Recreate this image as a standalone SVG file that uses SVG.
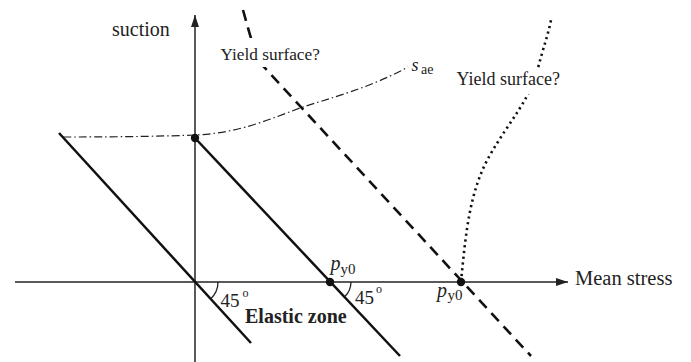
<svg xmlns="http://www.w3.org/2000/svg" width="691" height="362" viewBox="0 0 691 362">
<style>
text{font-family:'Liberation Serif','Times New Roman',Times,'DejaVu Serif',serif;fill:#222}
.ax{stroke:#222;stroke-width:1.5;fill:none}
.solid{stroke:#111;stroke-width:2.5;fill:none}
.dash{stroke:#111;stroke-width:2.6;fill:none;stroke-dasharray:11 7}
.dot{stroke:#111;stroke-width:2.6;fill:none;stroke-dasharray:2.2 3.6}
.dd{stroke:#222;stroke-width:1.2;fill:none;stroke-dasharray:8 3 1.5 3}
.arc{stroke:#222;stroke-width:1.3;fill:none}
.pt{fill:#111}
.bg{fill:#fff}
</style>
<defs>
<marker id="ah" viewBox="0 0 12 8" refX="12" refY="4" markerWidth="12" markerHeight="8" markerUnits="userSpaceOnUse" orient="auto">
<path d="M0,0 L12,4 L0,8 Z" fill="#222"/>
</marker>
</defs>
<g id="axes">
<line class="ax" x1="195" y1="362" x2="195" y2="15" marker-end="url(#ah)"/>
<line class="ax" x1="15" y1="282" x2="568" y2="282" marker-end="url(#ah)"/>
</g>
<g id="connectors">
<path class="dd" d="M63,137 C130,137 170,136 195,135 C240,133 270,119 300,108 C330,98 370,88 408,67"/>
<line class="solid" x1="59" y1="133" x2="251" y2="343"/>
<line class="solid" x1="195" y1="138" x2="400" y2="356"/>
<path class="dash" d="M243,10 C250,35 254,52 264,67 L531,356"/>
<path class="dot" d="M461,282 C466,230 470,190 490,155 C510,120 530,100 538,68 C544,45 548,35 551,20"/>
<path class="arc" d="M218,282 A23,23 0 0 1 210.5,299"/>
<path class="arc" d="M351,282 A21,21 0 0 1 344.5,297"/>
</g>
<g id="points">
<circle class="pt" cx="195" cy="138" r="4.2"/>
<circle class="pt" cx="330" cy="282" r="4.2"/>
<circle class="pt" cx="461" cy="282" r="4.2"/>
</g>
<g id="label-suction"><text x="112" y="36" font-size="20">suction</text></g>
<g id="label-yield1">
<rect class="bg" x="218" y="38" width="105" height="29"/>
<text x="220.5" y="60" font-size="17.3">Yield surface?</text>
</g>
<g id="label-yield2">
<rect class="bg" x="454" y="69" width="110" height="25"/>
<text x="456.5" y="85" font-size="18">Yield surface?</text>
</g>
<g id="label-sae"><text x="411.5" y="71" font-size="18" font-style="italic">s</text><text x="421" y="74" font-size="14">ae</text></g>
<g id="label-45a"><text x="220.5" y="306.5" font-size="19">45</text><text x="242.5" y="297" font-size="12">o</text></g>
<g id="label-45b"><text x="355" y="303.5" font-size="19">45</text><text x="376" y="293" font-size="12">o</text></g>
<g id="label-py0a"><text x="330.5" y="270" font-size="20" font-style="italic">p</text><text x="340.5" y="274" font-size="15">y0</text></g>
<g id="label-py0b"><text x="437" y="296.5" font-size="20" font-style="italic">p</text><text x="447.5" y="300" font-size="15">y0</text></g>
<g id="label-elastic"><text x="245" y="323" font-size="20" font-weight="bold">Elastic zone</text></g>
<g id="label-mean"><text x="575" y="285" font-size="20.5">Mean stress</text></g>
</svg>
